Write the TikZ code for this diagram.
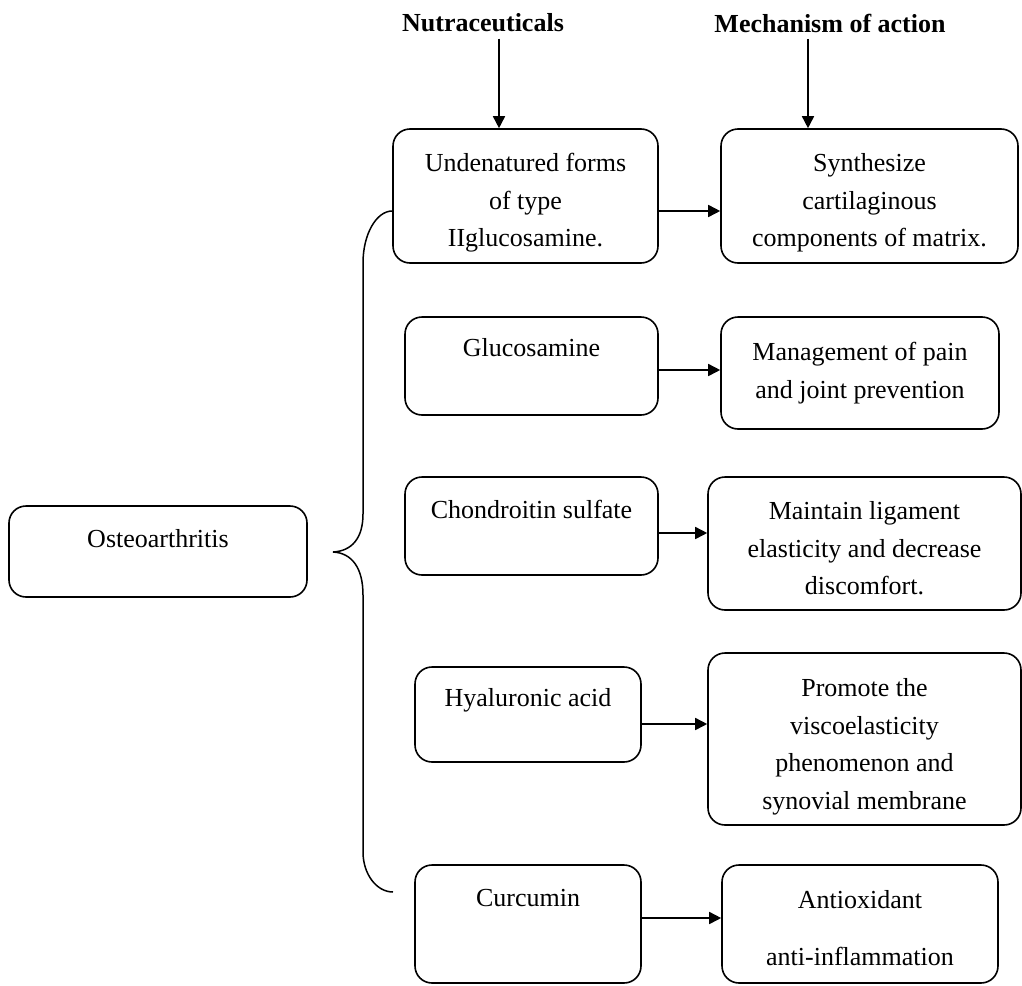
\documentclass[tikz,border=0pt]{standalone}
\usepackage{fontspec}
\setmainfont{Liberation Serif}
\usetikzlibrary{arrows.meta}
\newcommand{\toppad}[1]{\rule{0pt}{#1}}

\begin{document}
\begin{tikzpicture}[x=1pt, y=-1pt, font=\fontsize{26}{37.5}\selectfont,
  box/.style={draw, line width=1.6pt, rounded corners=17pt, inner sep=0pt},
  multi/.style={box, align=center},
  lift/.style={box, text height=18pt, text depth=#1},
  head/.style={font=\fontsize{26}{37.5}\selectfont\bfseries},
  arr/.style={-{Triangle[length=12pt,width=12pt]}, line width=1.6pt}]
  \useasboundingbox (0,0) rectangle (1022,985);
  % headings
  \node[head] (nut) at (483,23) {Nutraceuticals};
  \node[head] (mech) at (830,23) {Mechanism of action};
  % disease
  \node[lift=27pt, minimum width=298pt, minimum height=91pt] (oa) at (158,551.5) {Osteoarthritis};
  % nutraceuticals
  \node[multi, minimum width=265pt, minimum height=134pt] (und) at (525.5,196) {\toppad{32pt}Undenatured forms\\of type\\IIglucosamine.};
  \node[lift=38pt, minimum width=253pt, minimum height=98pt] (glu) at (531.5,366) {Glucosamine};
  \node[lift=34pt, minimum width=253pt, minimum height=98pt] (cho) at (531.5,526) {Chondroitin sulfate};
  \node[lift=35pt, minimum width=226pt, minimum height=95pt] (hya) at (528,714.5) {Hyaluronic acid};
  \node[lift=54pt, minimum width=226pt, minimum height=118pt] (cur) at (528,924) {Curcumin};
  % mechanisms
  \node[multi, minimum width=297pt, minimum height=134pt] (syn) at (869.5,196) {\toppad{32pt}Synthesize\\cartilaginous\\components of matrix.};
  \node[multi, minimum width=278pt, minimum height=112pt] (man) at (860,373) {Management of pain\\and joint prevention};
  \node[multi, minimum width=313pt, minimum height=133pt] (lig) at (864.5,543.5) {\toppad{28pt}Maintain ligament\\elasticity and decrease\\discomfort.};
  \node[multi, minimum width=313pt, minimum height=172pt] (vis) at (864.5,739) {\toppad{34pt}Promote the\\viscoelasticity\\phenomenon and\\synovial membrane};
  \node[multi, minimum width=276pt, minimum height=118pt] (ant) at (860,924) {\toppad{26pt}Antioxidant\\[20pt]anti-inflammation};
  % brace
  \coordinate (tip) at (333,552);
  \coordinate (bend) at (393,892);
  \draw[line width=1.5pt] ([yshift=-15pt]und.west) .. controls (376.5,211) and (363,234) .. (363,263)
    -- (363,514) .. controls (363,538) and (352,551) .. (tip)
    .. controls (352,553) and (363,568) .. (363,595)
    -- (363,852) .. controls (363,874) and (376.5,892) .. (bend);
  % arrows
  \draw[arr, shorten <=3pt] (nut.south -| 499,0) -- (und.north -| 499,0);
  \draw[arr, shorten <=3pt] (mech.south -| 808,0) -- (syn.north -| 808,0);
  \draw[arr] (und.east |- 0,211) -- (syn.west |- 0,211);
  \draw[arr] (glu.east |- 0,370) -- (man.west |- 0,370);
  \draw[arr] (cho.east |- 0,533) -- (lig.west |- 0,533);
  \draw[arr] (hya.east |- 0,724) -- (vis.west |- 0,724);
  \draw[arr] (cur.east |- 0,918) -- (ant.west |- 0,918);
\end{tikzpicture}
\end{document}
